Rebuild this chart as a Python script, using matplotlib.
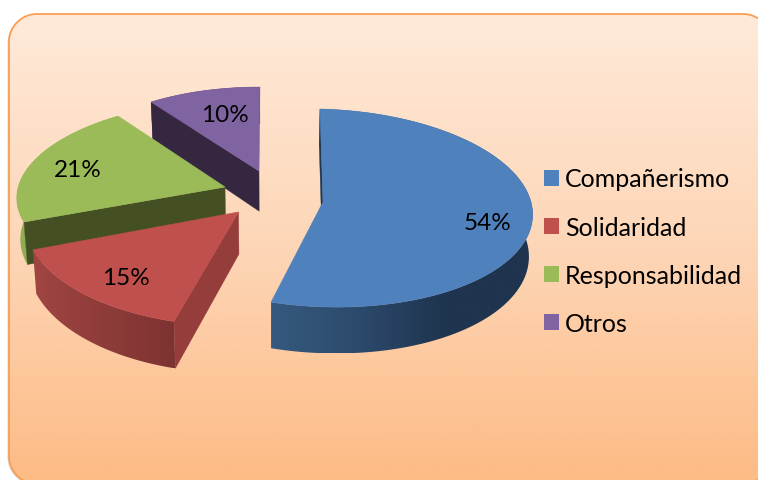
import numpy as np
import matplotlib
matplotlib.use("Agg")
import matplotlib.pyplot as plt
from matplotlib.patches import Polygon, Patch
from matplotlib.colors import LinearSegmentedColormap

# ---- data ----
categories = ["Compañerismo", "Solidaridad", "Responsabilidad", "Otros"]
values = [54, 15, 21, 10]
pct_labels = ["54%", "15%", "21%", "10%"]

# ---- style / layout ----
top_colors = ["#4f81bd", "#c0504d", "#9bbb59", "#8064a2"]
face_colors = ["#1f344e", "#943d3b", "#444f24", "#362740"]
arc_colors = [["#36597f", "#2c4a6c", "#1f344e", "#1f344e"],
              ["#a04542", "#7c3331"],
              ["#8fad52", "#8fad52"],
              ["#362740", "#362740"]]
W, H = 758, 481
# tip x, tip y, A, C, d, B for each slice (pixel layout of the exploded 3D view)
view = [(323, 203, 209, -3.2, 5, 98.6),
        (238.5, 213, 213, 8, 2.5, 107),
        (225, 188, 206.8, 11.6, -0.3, 92.2),
        (259, 172, 194, 1, 0.6, 89)]
persp = 0.0606
label_pos = [(488, 224), (126, 279), (78, 171), (225, 115)]
FONT = "Lato"
FS_PCT = 17.5
FS_LEG = 18

fig = plt.figure(figsize=(W / 100, H / 100), dpi=100)
ax = fig.add_axes([0, 0, 1, 1])
ax.set_axis_off()


def top_point(i, theta):
    tx, ty, A, C, d, B = view[i]
    u, v = np.sin(theta), np.cos(theta)
    w = 1 + persp * v
    return tx + (A * u + C * v) / w, ty + (d * u - B * v) / w


def drop(x, y):
    """Point below a top-surface point, at the bottom of the pie's thickness."""
    depth = 47 - (323 - y) * 0.045
    return x - (x - 270) * 0.014, y + depth


def gradient_fill(poly_xy, colors, z):
    poly = Polygon(poly_xy, closed=True, fc="none", ec="none", transform=ax.transData)
    ax.add_patch(poly)
    x0, x1 = poly_xy[:, 0].min(), poly_xy[:, 0].max()
    y0, y1 = poly_xy[:, 1].min(), poly_xy[:, 1].max()
    cmap = LinearSegmentedColormap.from_list("g", colors)
    im = ax.imshow(np.linspace(0, 1, 256)[None, :], cmap=cmap, aspect="auto",
                   extent=(x0, x1, y1, y0), zorder=z, interpolation="bilinear")
    im.set_clip_path(poly)


def rounded_rect(x0, y0, x1, y1, r):
    t = np.linspace(0, np.pi / 2, 30)
    c, s = np.cos(t), np.sin(t)
    xs = np.r_[x0 + r - r * c, x1 - r + r * s, x1 - r + r * c, x0 + r - r * s]
    ys = np.r_[y0 + r - r * s, y0 + r - r * c, y1 - r + r * s, y1 - r + r * c]
    return np.column_stack([xs, ys])


# background panel with vertical gradient (runs past the right and bottom of the picture)
panel_xy = rounded_rect(9, 15, 771, 485, 28)
ax.add_patch(Polygon(rounded_rect(7.5, 16, 771, 486, 28), closed=True, fc="#8a8a8a", ec="none",
                     alpha=0.35, zorder=0.5))
panel = Polygon(panel_xy, closed=True, fc="none", ec="none", zorder=1)
ax.add_patch(panel)
bg_cmap = LinearSegmentedColormap.from_list("bg", ["#ffead9", "#fdd6b7", "#fdbb85"])
bg = ax.imshow(np.linspace(0, 1, 256)[:, None], cmap=bg_cmap, aspect="auto",
               extent=(0, W, 481, 15), zorder=1, interpolation="bilinear")
bg.set_clip_path(panel)
ax.add_patch(Polygon(panel_xy, closed=True, fc="none", ec="#fa9e54", lw=1.3, zorder=1.5))

# slices, back to front, from the values
total = float(sum(values))
edges = np.cumsum([0] + values) / total * 2 * np.pi
z = {3: 2, 2: 3, 1: 4, 0: 5}
for i in [3, 2, 1, 0]:
    a0, a1 = edges[i], edges[i + 1]
    th = np.linspace(a0, a1, 160)
    xs, ys = top_point(i, th)
    tx, ty = view[i][:2]
    bx, by = drop(xs, ys)
    # outer rim
    rim = np.column_stack([np.r_[xs, bx[::-1]], np.r_[ys, by[::-1]]])
    gradient_fill(rim, arc_colors[i], z[i])
    # radial cut at the start of the slice
    sx, sy = top_point(i, a0)
    sbx, sby = drop(sx, sy)
    tbx, tby = drop(tx, ty)
    ax.add_patch(Polygon([(tx, ty), (sx, sy), (sbx, sby), (tbx, tby)], closed=True,
                         fc=face_colors[i], ec=face_colors[i], lw=0.3, zorder=z[i] + 0.1))
    # top surface
    ax.add_patch(Polygon(np.column_stack([np.r_[tx, xs], np.r_[ty, ys]]), closed=True,
                         fc=top_colors[i], ec=top_colors[i], lw=0.4, zorder=z[i] + 0.2))
    ax.text(label_pos[i][0], label_pos[i][1], pct_labels[i], family=FONT, fontsize=FS_PCT,
            ha="center", va="center", color="black", zorder=10)

ax.set_xlim(0, W)
ax.set_ylim(H, 0)

px = 72 / 100 / FS_LEG  # one pixel in font-size units
handles = [Patch(fc=c, ec="none") for c in top_colors]
leg = ax.legend(handles, categories, loc="upper left", bbox_to_anchor=(544, 168.5),
                bbox_transform=ax.transData, frameon=False, prop={"family": FONT, "size": FS_LEG},
                handlelength=15 * px, handleheight=15 * px, handletextpad=6 * px,
                labelspacing=25.2 * px, borderpad=0, borderaxespad=0)
leg.set_zorder(10)

fig.savefig("out.png", dpi=100, facecolor="white")
